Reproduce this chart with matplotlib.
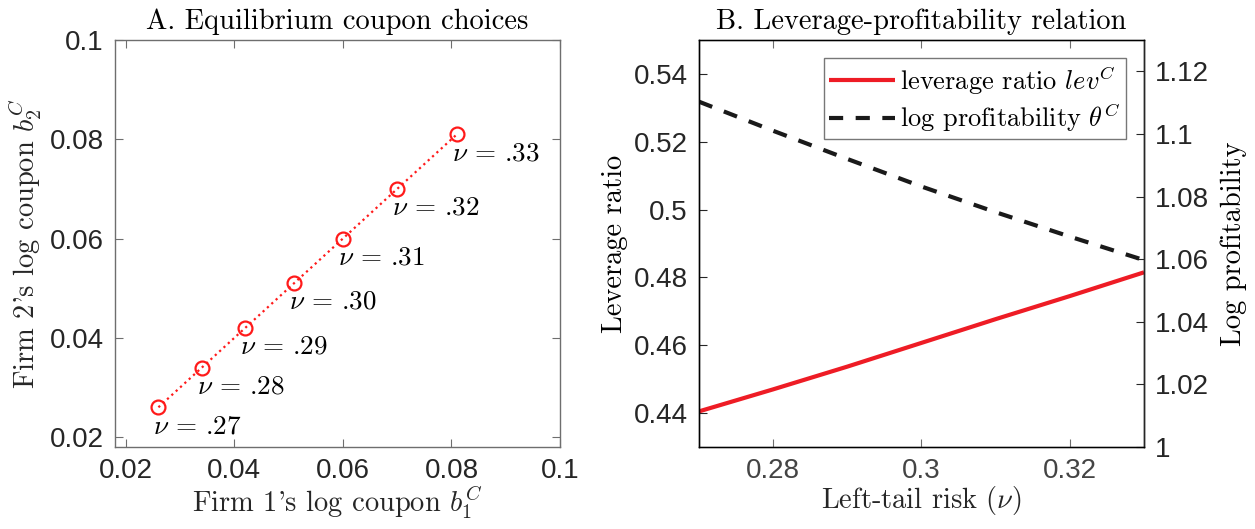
import matplotlib
matplotlib.use("Agg")
import matplotlib.pyplot as plt
import numpy as np

# ---- data ----
b1 = [0.026, 0.034, 0.042, 0.051, 0.060, 0.070, 0.081]
b2 = [0.026, 0.034, 0.042, 0.051, 0.060, 0.070, 0.081]
nu_labels = [".27", ".28", ".29", ".30", ".31", ".32", ".33"]

nu = [0.27, 0.28, 0.29, 0.30, 0.31, 0.32, 0.33]
leverage = [0.4405, 0.4470, 0.4537, 0.4607, 0.4677, 0.4745, 0.4815]
log_profit = [1.1103, 1.1010, 1.0920, 1.0832, 1.0750, 1.0672, 1.0597]

xticks_a = [0.02, 0.04, 0.06, 0.08, 0.1]
yticks_a = [0.02, 0.04, 0.06, 0.08, 0.1]
xticks_b = [0.28, 0.30, 0.32]
yticks_b_left = [0.44, 0.46, 0.48, 0.50, 0.52, 0.54]
yticks_b_right = [1.0, 1.02, 1.04, 1.06, 1.08, 1.10, 1.12]

def fmt(v):
    s = ("%.2f" % v).rstrip("0").rstrip(".")
    return s

plt.rcParams['mathtext.fontset'] = 'cm'
plt.rcParams['axes.unicode_minus'] = False
SERIF = 'cmr10'
TICKFONT = 'Liberation Sans'
TICKCOL = '#262626'
SPINECOL = '#6e6e6e'
LBL = 20.5
TK = 20

W, H = 1255, 529
fig = plt.figure(figsize=(W / 100, H / 100), dpi=100)

def ax_rect(l, t, r, b):
    return [l / W, 1 - b / H, (r - l) / W, (b - t) / H]

# ---- Panel A ----
axA = fig.add_axes(ax_rect(115, 40, 560, 447))
axA.plot(b1, b2, linestyle=':', color='#ff1a1a', linewidth=1.6,
         marker='o', markersize=10, markerfacecolor='none',
         markeredgecolor='#ff1a1a', markeredgewidth=1.6)
for x, y, lab in zip(b1, b2, nu_labels):
    axA.annotate(r"$\nu$ = " + lab, (x, y), xytext=(-5, -7),
                 textcoords='offset pixels', ha='left', va='top',
                 fontsize=19.5, color='black', fontfamily=SERIF)
axA.set_xlim(0.018, 0.1)
axA.set_ylim(0.018, 0.1)
axA.set_xticks(xticks_a)
axA.set_yticks(yticks_a)
axA.set_xticklabels([fmt(v) for v in xticks_a])
axA.set_yticklabels([fmt(v) for v in yticks_a])
axA.tick_params(direction='in', top=True, right=True, length=6, width=0.8,
                color=SPINECOL, labelsize=TK, labelcolor=TICKCOL, pad=8)
for lbl in axA.get_xticklabels() + axA.get_yticklabels():
    lbl.set_fontfamily(TICKFONT)
for s in axA.spines.values():
    s.set_color(SPINECOL)
    s.set_linewidth(1.0)
axA.set_title("A. Equilibrium coupon choices", fontfamily=SERIF, fontsize=LBL,
              color='black', pad=8)
axA.set_xlabel(r"Firm 1's log coupon $b_1^C$", fontfamily=SERIF, fontsize=LBL,
               color=TICKCOL, labelpad=0)
axA.set_ylabel(r"Firm 2's log coupon $b_2^C$", fontfamily=SERIF, fontsize=LBL,
               color=TICKCOL, labelpad=4)

# ---- Panel B ----
axB = fig.add_axes(ax_rect(699, 40, 1144, 447))
l1, = axB.plot(nu, leverage, color='#ee1c25', linewidth=3.0, solid_capstyle='butt')
axB.set_xlim(0.27, 0.33)
axB.set_ylim(0.43, 0.55)
axB.set_xticks(xticks_b)
axB.set_yticks(yticks_b_left)
axB.set_xticklabels([fmt(v) for v in xticks_b])
axB.set_yticklabels([fmt(v) for v in yticks_b_left])
axB.tick_params(axis='x', direction='in', top=True, length=6, width=0.8,
                color=SPINECOL, labelsize=TK, labelcolor='#444444', pad=8)
axB.tick_params(axis='y', direction='in', length=6, width=0.8,
                color='#262626', labelsize=TK, labelcolor=TICKCOL, pad=8)
for lbl in axB.get_xticklabels() + axB.get_yticklabels():
    lbl.set_fontfamily(TICKFONT)
axB.spines['top'].set_color(SPINECOL)
axB.spines['bottom'].set_color(SPINECOL)
axB.spines['left'].set_color('#262626')
for s in axB.spines.values():
    s.set_linewidth(1.0)

axR = axB.twinx()
l2, = axR.plot(nu, log_profit, color='#1a1a1a', linewidth=3.0,
               linestyle=(0, (3.4, 3.0)), dash_capstyle='butt')
axR.set_ylim(1.0, 1.13)
axR.set_yticks(yticks_b_right)
axR.set_yticklabels([fmt(v) for v in yticks_b_right])
axR.tick_params(axis='y', direction='in', length=6, width=0.8,
                color='#262626', labelsize=TK, labelcolor=TICKCOL, pad=8)
for lbl in axR.get_yticklabels():
    lbl.set_fontfamily(TICKFONT)
axR.spines['right'].set_color('#262626')
for s in axR.spines.values():
    s.set_linewidth(1.0)

axB.set_title("B. Leverage-profitability relation", fontfamily=SERIF,
              fontsize=LBL, color='black', pad=8)
axB.set_xlabel(r"Left-tail risk $(\nu)$", fontfamily=SERIF, fontsize=LBL,
               color=TICKCOL, labelpad=0)
axB.set_ylabel("Leverage ratio", fontfamily=SERIF, fontsize=LBL,
               color='black', labelpad=4)
axR.set_ylabel("Log profitability", fontfamily=SERIF, fontsize=LBL,
               color='black', labelpad=8)

leg = axR.legend([l1, l2], [r"leverage ratio $lev^C$",
                            r"log profitability $\theta^C$"],
                 loc='upper right', bbox_to_anchor=(0.96, 0.955),
                 prop={'family': SERIF, 'size': 19}, frameon=True,
                 fancybox=False, edgecolor='#555555', handlelength=2.5,
                 handletextpad=0.2, borderpad=0.2, labelspacing=0.15,
                 borderaxespad=0.0)
leg.get_frame().set_linewidth(1.0)

fig.savefig("out.png", dpi=100)
